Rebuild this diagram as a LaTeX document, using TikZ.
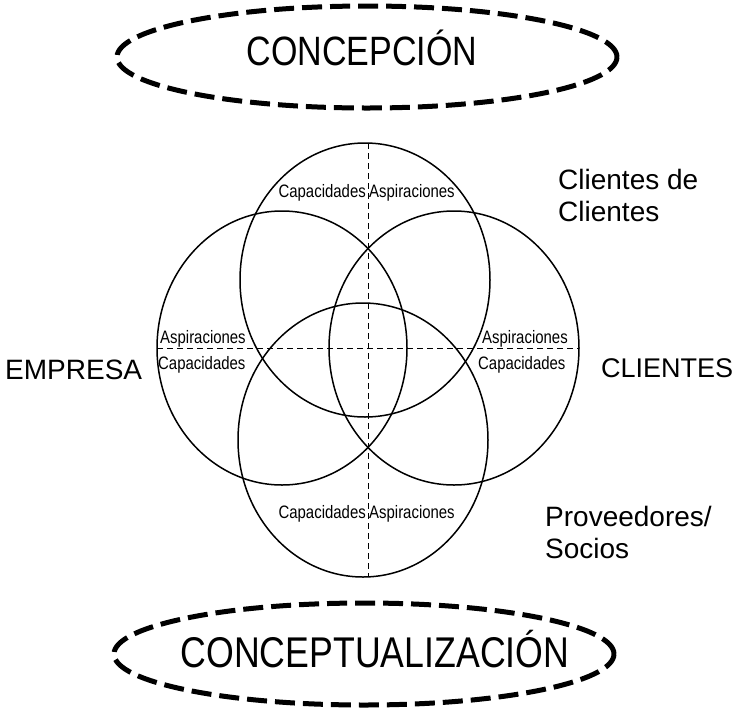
\documentclass[tikz,border=0pt]{standalone}
\usepackage{fontspec}
\setmainfont{Liberation Sans}
\newfontfamily\narrowfont[FakeStretch=0.83]{Liberation Sans}
\usetikzlibrary{shapes.geometric}

\begin{document}
\begin{tikzpicture}[x=1pt,y=-1pt,
  ring/.style={draw,ellipse,line width=1.5pt,inner sep=0pt,outer sep=0pt,minimum width=250pt,minimum height=274pt},
  oval/.style={draw,ellipse,line width=5pt,dash pattern=on 20pt off 8pt,inner sep=0pt,outer sep=0pt,minimum width=500pt,minimum height=102pt},
  cutline/.style={line width=1pt,dash pattern=on 6pt off 4pt},
  small/.style={font=\narrowfont\fontsize{18}{20}\selectfont,inner sep=0pt},
  side/.style={font=\fontsize{28}{32}\selectfont,inner sep=0pt,align=left}]

\useasboundingbox (0,0) rectangle (737,710);

\node (concepcion)		at (367,57)	[oval] {};
\node (conceptualizacion)	at (364,654)	[oval] {};
\node (concepcion_txt)	at (362,65)	[inner sep=0pt,anchor=base,font=\narrowfont\fontsize{41}{44}\selectfont] {CONCEPCIÓN};
\node (conceptualizacion_txt)	at (375,667)	[inner sep=0pt,anchor=base,font=\narrowfont\fontsize{43}{46}\selectfont] {CONCEPTUALIZACIÓN};

\node (cdc_ring)		at (365,280)	[ring] {};
\node (empresa_ring)	at (282,348)	[ring] {};
\node (clientes_ring)	at (454,348)	[ring] {};
\node (socios_ring)	at (363,440)	[ring] {};

\coordinate (hub) at (368,349);
\draw [cutline] (hub |- cdc_ring.north) -- (hub |- socios_ring.south);
\draw [cutline] (empresa_ring.west) -- (clientes_ring.east);

\node (cap_top)	at (366,197)	[small,anchor=base east] {Capacidades};
\node (asp_top)	at (369,197)	[small,anchor=base west] {Aspiraciones};
\node (cap_bot)	at (366,518)	[small,anchor=base east] {Capacidades};
\node (asp_bot)	at (369,518)	[small,anchor=base west] {Aspiraciones};
\node (asp_left)	at (160,343)	[small,anchor=base west] {Aspiraciones};
\node (cap_left)	at (158,369)	[small,anchor=base west] {Capacidades};
\node (asp_right)	at (482,343)	[small,anchor=base west] {Aspiraciones};
\node (cap_right)	at (478,369)	[small,anchor=base west] {Capacidades};

\node (empresa)	at (5,379)	[side,anchor=base west] {EMPRESA};
\node (clientes)	at (601,377)	[side,anchor=base west,font=\fontsize{27}{32}\selectfont] {CLIENTES};
\node (cdc)		at (558,169)	[side,anchor=north west] {Clientes de\\Clientes};
\node (socios)	at (545,506)	[side,anchor=north west] {Proveedores/\\Socios};

\end{tikzpicture}
\end{document}
